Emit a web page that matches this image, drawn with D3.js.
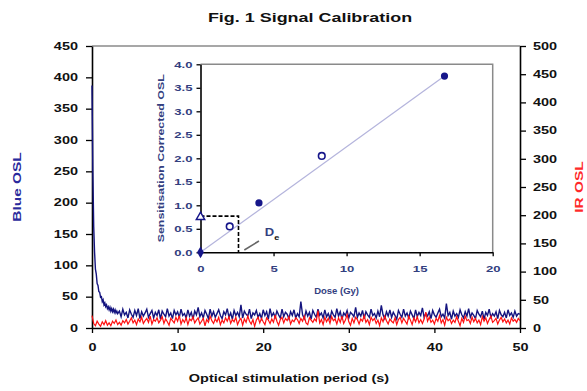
<!DOCTYPE html>
<html>
<head>
<meta charset="utf-8">
<script src="https://cdn.jsdelivr.net/npm/d3@7"></script>
<style>
  body { margin: 0; background: #fff; }
  text { font-family: "Liberation Sans", Arial, sans-serif; font-weight: bold; }
</style>
</head>
<body>
<div id="wrapper"></div>
<script>
// Blue OSL, 0.0 - 3.0 s in 0.1 s channels
const blueDecay = [387, 248, 162, 121, 94, 86, 71, 68, 58, 57, 49, 50, 42, 45, 37, 40, 34, 37, 31, 34,
  29, 33, 27, 31, 26, 30, 25, 29, 24, 27, 23];
// Blue OSL, 3.2 - 50 s in 0.2 s channels
const blueTail = [
  27, 18, 30, 21, 25, 16, 29, 22, 17, 28, 20, 31, 15, 26, 19, 24, 30, 17, 23, 28,
  16, 25, 20, 29, 14, 27, 22, 18, 31, 19, 24, 15, 28, 21, 26, 17, 30, 20, 23, 16,
  29, 19, 25, 14, 27, 21, 33, 18, 24, 16, 28, 22, 15, 30, 19, 26, 17, 23, 29, 20,
  15, 26, 21, 31, 17, 24, 14, 28, 20, 25, 18, 37, 16, 27, 22, 19, 30, 15, 24, 21,
  28, 17, 23, 15, 29, 20, 26, 14, 31, 19, 24, 17, 27, 21, 16, 30, 18, 25, 22, 15,
  26, 20, 29, 16, 23, 18, 42, 21, 15, 27, 19, 25, 14, 28, 22, 17, 30, 20, 24, 16,
  29, 18, 23, 15, 27, 21, 17, 31, 19, 26, 14, 24, 20, 28, 16, 25, 22, 18, 33, 17,
  24, 19, 28, 15, 26, 21, 17, 30, 20, 23, 16, 27, 18, 36, 21, 15, 26, 19, 29, 17,
  25, 20, 14, 28, 22, 17, 30, 19, 24, 16, 27, 21, 15, 29, 18, 25, 20, 32, 17, 23,
  19, 26, 15, 28, 21, 17, 24, 30, 18, 22, 16, 39, 20, 25, 14, 27, 19, 23, 17, 29,
  21, 16, 26, 19, 31, 17, 24, 20, 15, 28, 22, 18, 27, 14, 25, 20, 30, 17, 23, 19,
  26, 15, 28, 21, 18, 25, 16, 29, 20, 24, 17, 27, 19, 23, 22];
// IR OSL, 0 - 50 s in 0.2 s channels (right axis)
const irOSL = [
  22, 8, 4, 12, 7, 3, 11, 6, 13, 5, 9, 4, 12, 8, 14, 6, 10, 5, 13, 9,
  15, 7, 12, 18, 9, 14, 6, 16, 11, 19, 8, 13, 17, 10, 21, 7, 15, 12, 18, 9,
  14, 20, 8, 16, 11, 5, 17, 13, 9, 19, 12, 22, 7, 15, 10, 18, 6, 16, 13, 20,
  9, 14, 18, 7, 12, 17, 4, 15, 10, 21, 13, 8, 16, 11, 19, 6, 14, 9, 18, 12,
  20, 8, 15, 11, 19, 6, 13, 17, 5, 16, 10, 21, 12, 7, 15, 3, 14, 19, 9, 17,
  11, 6, 18, 14, 8, 16, 10, 23, 12, 5, 15, 19, 9, 17, 13, 20, 7, 14, 11, 18,
  15, 8, 17, 12, 21, 9, 6, 18, 14, 10, 16, 12, 31, 9, 15, 6, 19, 11, 17, 8,
  20, 13, 16, 7, 18, 10, 21, 8, 14, 24, 11, 5, 17, 9, 19, 15, 7, 16, 12, 22,
  10, 15, 6, 19, 13, 17, 8, 14, 4, 18, 11, 21, 13, 7, 16, 12, 9, 18, 6, 15,
  19, 9, 17, 12, 7, 21, 14, 6, 18, 11, 20, 9, 15, 8, 16, 28, 12, 19, 10, 14,
  7, 17, 12, 22, 9, 15, 5, 19, 13, 16, 8, 14, 10, 20, 12, 4, 17, 10, 21, 13,
  15, 8, 19, 11, 17, 9, 14, 6, 20, 12, 18, 8, 15, 21, 10, 13, 17, 7, 14, 19,
  11, 16, 9, 14, 7, 18, 12, 15, 10, 17, 13];

const timeTicks = [0, 10, 20, 30, 40, 50];
const blueTicks = [0, 50, 100, 150, 200, 250, 300, 350, 400, 450];
const irTicks = [0, 50, 100, 150, 200, 250, 300, 350, 400, 450, 500];

// Inset: dose response
const doseTicks = [0, 5, 10, 15, 20];
const lumTicks = [0, 0.5, 1, 1.5, 2, 2.5, 3, 3.5, 4];
const regenFilled = [[4, 1.05], [16.7, 3.75]];
const regenOpen = [[2, 0.55], [8.3, 2.05]];
const zeroDose = [[0, 0]];
const naturalPoint = [[0, 0.75]];
const fitLine = [[0, 0], [16.7, 3.75]];
const deDose = 2.6;
const deSignal = 0.77;

const width = 587;
const height = 391;
const margins = { top: 46, right: 67, bottom: 63, left: 92 };
const boundedWidth = width - margins.left - margins.right;
const boundedHeight = height - margins.top - margins.bottom;

const inset = { left: 200.5, top: 64.3, right: 492.7, bottom: 252.3 };

const svg = d3.select("#wrapper").append("svg")
  .attr("width", width)
  .attr("height", height);

// Main scales
const xScale = d3.scaleLinear().domain([0, 50]).range([0, boundedWidth]);
const yBlue = d3.scaleLinear().domain([0, 450]).range([boundedHeight, 0]);
const yIR = d3.scaleLinear().domain([0, 500]).range([boundedHeight, 0]);

const bounds = svg.append("g")
  .attr("transform", `translate(${margins.left},${margins.top})`);

bounds.append("clipPath").attr("id", "plotClip")
  .append("rect").attr("x", -1).attr("width", boundedWidth + 1).attr("height", boundedHeight);

// frame top
bounds.append("line")
  .attr("x1", 0).attr("x2", boundedWidth)
  .attr("y1", 0).attr("y2", 0)
  .attr("stroke", "#8a8a8a").attr("stroke-width", 1.5);

function styleAxis(g, color) {
  g.select(".domain").attr("stroke", "#000").attr("stroke-width", 1.6);
  g.selectAll(".tick line").attr("stroke", "#000").attr("stroke-width", 1.3);
  g.selectAll(".tick text").attr("fill", color);
}

const mainSx = 1.45;

const xAxis = bounds.append("g")
  .attr("transform", `translate(0,${boundedHeight})`)
  .call(d3.axisBottom(xScale).tickValues(timeTicks).tickSize(5).tickSizeOuter(0).tickPadding(11));
styleAxis(xAxis, "#111");
xAxis.selectAll(".tick text").style("font-size", "10px")
  .attr("transform", `scale(${mainSx},1)`);

const leftAxis = bounds.append("g")
  .call(d3.axisLeft(yBlue).tickValues(blueTicks).tickSize(6).tickSizeOuter(0));
styleAxis(leftAxis, "#111");
leftAxis.selectAll(".tick text").style("font-size", "10px")
  .attr("x", 0).attr("transform", `translate(-14,0) scale(${mainSx},1)`);

const rightAxis = bounds.append("g")
  .attr("transform", `translate(${boundedWidth},0)`)
  .call(d3.axisRight(yIR).tickValues(irTicks).tickSize(6).tickSizeOuter(0));
styleAxis(rightAxis, "#111");
rightAxis.selectAll(".tick text").style("font-size", "10px")
  .attr("x", 0).attr("transform", `translate(13,0) scale(${mainSx},1)`);

// OSL curves, drawn over the axes
const blueData = blueDecay.map((v, i) => [i * 0.1, v])
  .concat(blueTail.map((v, i) => [3.2 + i * 0.2, v]));
const irData = irOSL.map((v, i) => [i * 0.2, v]);

bounds.append("path")
  .datum(blueData)
  .attr("clip-path", "url(#plotClip)")
  .attr("fill", "none")
  .attr("stroke", "#14147f")
  .attr("stroke-width", 1.4)
  .attr("d", d3.line().x(d => xScale(d[0])).y(d => yBlue(d[1])));

bounds.append("path")
  .datum(irData)
  .attr("clip-path", "url(#plotClip)")
  .attr("fill", "none")
  .attr("stroke", "#ff1010")
  .attr("stroke-width", 1.2)
  .attr("d", d3.line().x(d => xScale(d[0])).y(d => yIR(d[1])));

// Titles
svg.append("text")
  .attr("transform", `translate(310,22) scale(1.38,1)`)
  .attr("text-anchor", "middle")
  .style("font-size", "13px")
  .attr("fill", "#111")
  .text("Fig. 1 Signal Calibration");

svg.append("text")
  .attr("transform", `translate(289,382) scale(${mainSx},1)`)
  .attr("text-anchor", "middle")
  .style("font-size", "10px")
  .attr("fill", "#111")
  .text("Optical stimulation period (s)");

svg.append("text")
  .attr("transform", `translate(21,${margins.top + boundedHeight / 2}) rotate(-90) scale(1.4,1)`)
  .attr("text-anchor", "middle")
  .style("font-size", "11px")
  .attr("fill", "#2a2a9c")
  .text("Blue OSL");

svg.append("text")
  .attr("transform", `translate(583,${margins.top + boundedHeight / 2}) rotate(-90) scale(1.4,1)`)
  .attr("text-anchor", "middle")
  .style("font-size", "11px")
  .attr("fill", "#ff2a2a")
  .text("IR OSL");

// Inset
const insetW = inset.right - inset.left;
const insetH = inset.bottom - inset.top;
const ig = svg.append("g").attr("transform", `translate(${inset.left},${inset.top})`);

const doseScale = d3.scaleLinear().domain([0, 20]).range([0, insetW]);
const lumScale = d3.scaleLinear().domain([0, 4]).range([insetH, 0]);

ig.append("rect").attr("width", insetW).attr("height", insetH).attr("fill", "#fff");
ig.append("path")
  .attr("d", `M0,0H${insetW}V${insetH}`)
  .attr("fill", "none").attr("stroke", "#8a8a8a").attr("stroke-width", 1.5);

const insetText = "#33407f";
const insetSx = 1.38;

ig.append("path")
  .datum(fitLine)
  .attr("fill", "none")
  .attr("stroke", "#b4b4dc")
  .attr("stroke-width", 1.2)
  .attr("d", d3.line().x(d => doseScale(d[0])).y(d => lumScale(d[1])));

ig.append("path")
  .attr("d", d3.line()([
    [doseScale(0), lumScale(deSignal)],
    [doseScale(deDose), lumScale(deSignal)],
    [doseScale(deDose), lumScale(0)]]))
  .attr("fill", "none")
  .attr("stroke", "#000")
  .attr("stroke-width", 1.6)
  .attr("stroke-dasharray", "4,2");

const ixAxis = ig.append("g")
  .attr("transform", `translate(0,${insetH})`)
  .call(d3.axisBottom(doseScale).tickValues(doseTicks).tickSize(4).tickSizeOuter(0).tickPadding(9));
styleAxis(ixAxis, insetText);
ixAxis.selectAll(".tick text").style("font-size", "9.5px")
  .attr("transform", `scale(${insetSx},1)`);

const iyAxis = ig.append("g")
  .call(d3.axisLeft(lumScale).tickValues(lumTicks).tickSize(4).tickSizeOuter(0)
    .tickFormat(d3.format(".1f")));
styleAxis(iyAxis, insetText);
iyAxis.selectAll(".tick text").style("font-size", "9.5px")
  .attr("x", 0).attr("transform", `translate(-8,0) scale(${insetSx},1)`);

const markColor = "#16168a";

ig.selectAll(".filled").data(regenFilled).join("circle")
  .attr("cx", d => doseScale(d[0])).attr("cy", d => lumScale(d[1]))
  .attr("r", 3.6).attr("fill", markColor);

ig.selectAll(".open").data(regenOpen).join("circle")
  .attr("cx", d => doseScale(d[0])).attr("cy", d => lumScale(d[1]))
  .attr("r", 3.3).attr("fill", "#fff")
  .attr("stroke", markColor).attr("stroke-width", 1.6);

ig.selectAll(".zero").data(zeroDose).join("path")
  .attr("transform", d => `translate(${doseScale(d[0])},${lumScale(d[1])})`)
  .attr("d", d3.symbol(d3.symbolDiamond, 40))
  .attr("fill", markColor);

ig.selectAll(".natural").data(naturalPoint).join("path")
  .attr("transform", d => `translate(${doseScale(d[0])},${lumScale(d[1])})`)
  .attr("d", d3.symbol(d3.symbolTriangle, 30))
  .attr("fill", "#fff").attr("stroke", markColor).attr("stroke-width", 1.5);

// De pointer
ig.append("line")
  .attr("x1", doseScale(3.0)).attr("y1", lumScale(0.05))
  .attr("x2", doseScale(4.0)).attr("y2", lumScale(0.24))
  .attr("stroke", "#666").attr("stroke-width", 1.6);

const deLabel = ig.append("text")
  .attr("transform", `translate(${doseScale(4.4)},${lumScale(0.35)}) scale(1.3,1)`)
  .style("font-size", "10px")
  .attr("fill", insetText);
deLabel.append("tspan").text("D");
deLabel.append("tspan").attr("dy", 4).style("font-size", "7px").attr("fill", "#111").text("e");

ig.append("text")
  .attr("transform", `translate(${insetW / 2 - 10},${insetH + 42}) scale(1.0,1)`)
  .attr("text-anchor", "middle")
  .style("font-size", "9.5px")
  .attr("fill", insetText)
  .text("Dose (Gy)");

ig.append("text")
  .attr("transform", `translate(-37,${insetH / 2}) rotate(-90) scale(${insetSx},1)`)
  .attr("text-anchor", "middle")
  .style("font-size", "9px")
  .attr("fill", insetText)
  .text("Sensitisation Corrected OSL");
</script>
</body>
</html>
